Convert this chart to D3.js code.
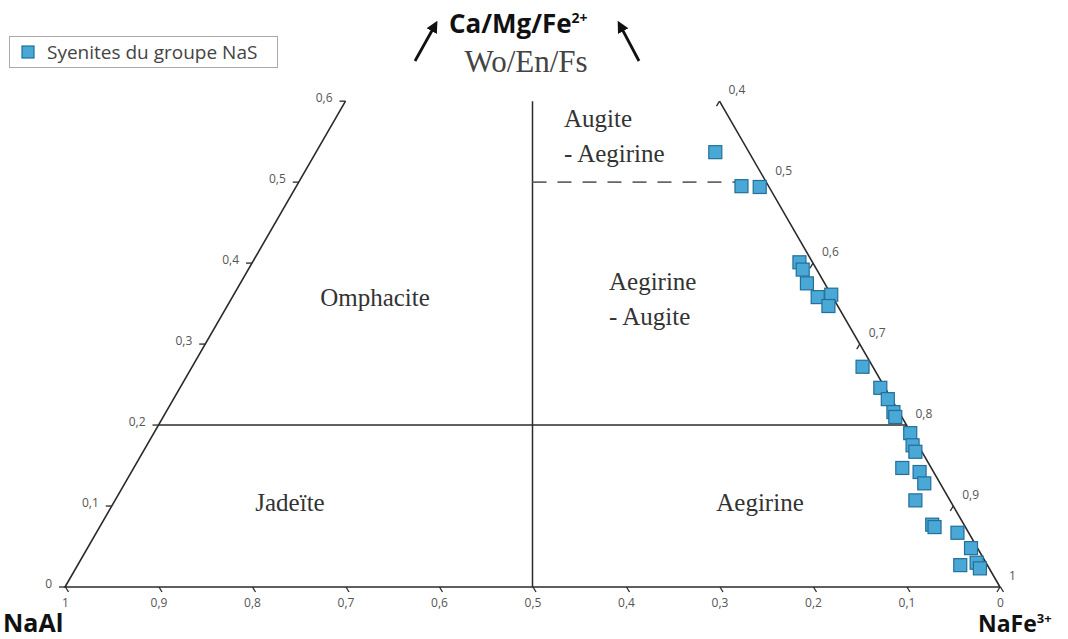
<!DOCTYPE html>
<html>
<head>
<meta charset="utf-8">
<script src="https://cdn.jsdelivr.net/npm/d3@7"></script>
<style>
  body { margin: 0; background: #fff; }
  svg { display: block; }
</style>
</head>
<body>
<div id="chart"></div>
<script>
// pyroxene fractions (Jd = 1 - quad - ae)
var quad = [0.537, 0.495, 0.494, 0.401, 0.392, 0.375, 0.358, 0.361, 0.347, 0.272,
            0.246, 0.232, 0.216, 0.210, 0.190, 0.175, 0.167, 0.147, 0.142, 0.128,
            0.107, 0.077, 0.074, 0.067, 0.048, 0.027, 0.030, 0.023];
var ae = [0.427, 0.476, 0.496, 0.585, 0.593, 0.606, 0.626, 0.639, 0.643, 0.717,
          0.749, 0.764, 0.778, 0.783, 0.809, 0.819, 0.826, 0.822, 0.843, 0.855,
          0.856, 0.889, 0.893, 0.921, 0.945, 0.944, 0.960, 0.967];

var baseTicks = [1, 0.9, 0.8, 0.7, 0.6, 0.5, 0.4, 0.3, 0.2, 0.1, 0];
var leftTicks = [0, 0.1, 0.2, 0.3, 0.4, 0.5, 0.6];
var rightTicks = [0.4, 0.5, 0.6, 0.7, 0.8, 0.9, 1];
var seriesName = "Syenites du groupe NaS";

var width = 1068, height = 639;
var x0 = 65, x1 = 1000, y0 = 587;
var side = x1 - x0;

var svg = d3.select("#chart")
  .append("svg")
  .attr("width", width)
  .attr("height", height);

// horizontal position along the base and height of the quad apex
var hx = d3.scaleLinear().domain([0, 1]).range([x0, x1]);
var vy = d3.scaleLinear().domain([0, 1]).range([y0, y0 - side * Math.sqrt(3) / 2]);
function proj(q, a) {
  return [hx(a + q / 2), vy(q)];
}
function fmt(d) {
  return (d === 0 || d === 1) ? String(d) : String(d).replace(".", ",");
}

var line = d3.line();
var ink = "#2b2b2b";
var sans = "Open Sans, sans-serif";

// triangle frame (truncated at Quad = 0.6)
svg.append("path")
  .attr("d", line([proj(0.6, 0), proj(0, 0), proj(0, 1), proj(0.6, 0.4)]))
  .attr("fill", "none")
  .attr("stroke", ink)
  .attr("stroke-width", 1.6);

// field boundaries
svg.append("path")
  .attr("d", line([proj(0.2, 0), proj(0.2, 0.8)]))
  .attr("stroke", ink)
  .attr("stroke-width", 1.5);
svg.append("path")
  .attr("d", line([proj(0, 0.5), proj(0.6, 0.2)]))
  .attr("stroke", ink)
  .attr("stroke-width", 1.5);
svg.append("path")
  .attr("d", line([proj(0.5, 0.25), proj(0.5, 0.5)]))
  .attr("stroke", "#666")
  .attr("stroke-width", 1.6)
  .attr("stroke-dasharray", "14,11");

// bottom axis (NaAl fraction)
var jdScale = d3.scaleLinear().domain([1, 0]).range([x0, x1]);
var bottom = svg.append("g")
  .attr("transform", "translate(0," + y0 + ")")
  .call(d3.axisBottom(jdScale).tickValues(baseTicks).tickFormat(fmt).tickSize(5).tickPadding(6));
bottom.select(".domain").remove();
bottom.selectAll(".tick line")
  .attr("x2", 3)
  .attr("y2", 5)
  .attr("stroke", ink)
  .attr("stroke-width", 1.3);
bottom.selectAll(".tick text")
  .attr("font-family", sans)
  .attr("font-size", 12)
  .attr("fill", "#555");

// left edge ticks (Quad)
var lt = svg.append("g");
leftTicks.forEach(function (v) {
  var p = proj(v, 0);
  lt.append("line")
    .attr("x1", p[0]).attr("y1", p[1])
    .attr("x2", p[0] - 6).attr("y2", p[1])
    .attr("stroke", ink).attr("stroke-width", 1.3);
  lt.append("text")
    .attr("x", p[0] - 13)
    .attr("y", p[1] + 1)
    .attr("text-anchor", "end")
    .attr("font-family", sans)
    .attr("font-size", 12)
    .attr("fill", "#555")
    .text(fmt(v));
});

// right edge ticks (NaFe3+)
var rt = svg.append("g");
rightTicks.forEach(function (v) {
  var p = proj(1 - v, v);
  rt.append("line")
    .attr("x1", p[0]).attr("y1", p[1])
    .attr("x2", p[0] - 3).attr("y2", p[1] + 5)
    .attr("stroke", ink).attr("stroke-width", 1.3);
  rt.append("text")
    .attr("x", p[0] + 9)
    .attr("y", p[1] - 7)
    .attr("font-family", sans)
    .attr("font-size", 12)
    .attr("fill", "#555")
    .text(fmt(v));
});

// field names
var serif = "Liberation Serif, serif";
function label(lines, x, y, anchor) {
  var t = svg.append("text")
    .attr("font-family", serif)
    .attr("font-size", 25)
    .attr("fill", "#333")
    .attr("text-anchor", anchor);
  lines.forEach(function (s, i) {
    t.append("tspan").attr("x", x).attr("y", y + i * 35).text(s);
  });
}
label(["Omphacite"], 375, 306, "middle");
label(["Jadeïte"], 290, 511, "middle");
label(["Aegirine"], 760, 511, "middle");
label(["Aegirine", "- Augite"], 609, 290, "start");
label(["Augite", "- Aegirine"], 564, 127, "start");

// apex title with arrows
svg.append("defs").append("marker")
  .attr("id", "head")
  .attr("viewBox", "0 0 10 10")
  .attr("refX", 4).attr("refY", 5)
  .attr("markerWidth", 4.2).attr("markerHeight", 4.2)
  .attr("orient", "auto")
  .append("path")
  .attr("d", "M0,0 L10,5 L0,10 Z")
  .attr("fill", "#111");
svg.append("line")
  .attr("x1", 415).attr("y1", 61).attr("x2", 434).attr("y2", 27)
  .attr("stroke", "#111").attr("stroke-width", 2.8)
  .attr("marker-end", "url(#head)");
svg.append("line")
  .attr("x1", 639).attr("y1", 61).attr("x2", 621).attr("y2", 27)
  .attr("stroke", "#111").attr("stroke-width", 2.8)
  .attr("marker-end", "url(#head)");

var title = svg.append("text")
  .attr("x", 449).attr("y", 33)
  .attr("font-family", sans)
  .attr("font-weight", "bold")
  .attr("font-size", 26)
  .attr("fill", "#111");
title.append("tspan").text("Ca/Mg/Fe");
title.append("tspan").attr("dy", -10).attr("font-size", 14).text("2+");

svg.append("text")
  .attr("x", 526).attr("y", 72)
  .attr("text-anchor", "middle")
  .attr("font-family", serif)
  .attr("font-size", 31)
  .attr("fill", "#444")
  .text("Wo/En/Fs");

// vertex names
svg.append("text")
  .attr("x", 3).attr("y", 632)
  .attr("font-family", sans)
  .attr("font-weight", "bold")
  .attr("font-size", 25)
  .attr("fill", "#111")
  .text("NaAl");
var fe = svg.append("text")
  .attr("x", 978).attr("y", 632)
  .attr("font-family", sans)
  .attr("font-weight", "bold")
  .attr("font-size", 23)
  .attr("fill", "#111");
fe.append("tspan").text("NaFe");
fe.append("tspan").attr("dy", -9).attr("font-size", 13).text("3+");

// data points
var pts = quad.map(function (q, i) { return { q: q, a: ae[i] }; });
var size = 13;
svg.append("g")
  .selectAll("rect")
  .data(pts)
  .enter()
  .append("rect")
  .attr("x", function (d) { return proj(d.q, d.a)[0] - size / 2; })
  .attr("y", function (d) { return proj(d.q, d.a)[1] - size / 2; })
  .attr("width", size)
  .attr("height", size)
  .attr("fill", "#4aa8d6")
  .attr("stroke", "#226f99")
  .attr("stroke-width", 1.2);

// legend
var lg = svg.append("g");
lg.append("rect")
  .attr("x", 9.5).attr("y", 36.5)
  .attr("width", 268).attr("height", 31)
  .attr("fill", "#fff")
  .attr("stroke", "#aaa");
lg.append("rect")
  .attr("x", 22).attr("y", 46)
  .attr("width", 12).attr("height", 12)
  .attr("fill", "#4aa8d6")
  .attr("stroke", "#226f99")
  .attr("stroke-width", 1.2);
lg.append("text")
  .attr("x", 47).attr("y", 59)
  .attr("font-family", sans)
  .attr("font-size", 19)
  .attr("fill", "#444")
  .text(seriesName);
</script>
</body>
</html>
